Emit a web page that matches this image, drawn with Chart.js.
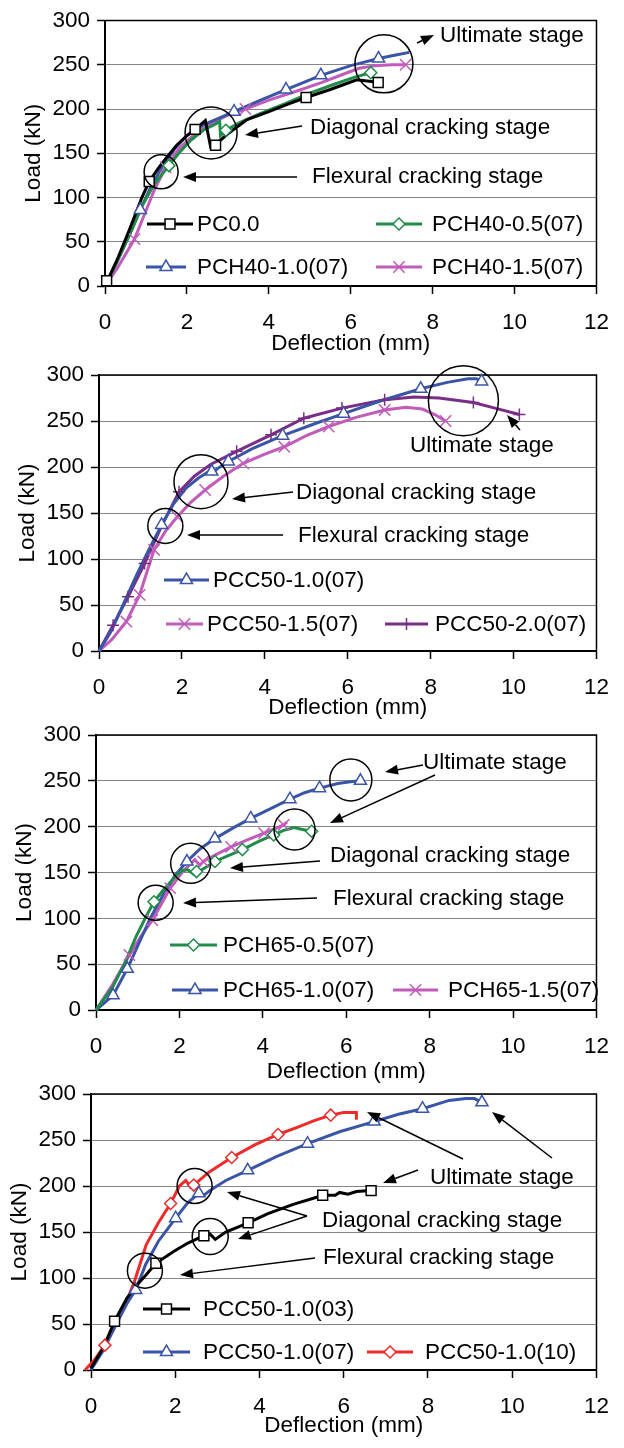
<!DOCTYPE html>
<html><head><meta charset="utf-8">
<script src="https://cdn.jsdelivr.net/npm/chart.js@4.4.0/dist/chart.umd.min.js"></script>
<style>
html,body{margin:0;padding:0;background:#fff;}
body{width:624px;height:1448px;position:relative;overflow:hidden;}
canvas{position:absolute;left:0;}
</style></head><body>
<canvas id="c1"></canvas><canvas id="c2"></canvas><canvas id="c3"></canvas><canvas id="c4"></canvas>
<script>
// ---------- tick labels ----------
const xTicks = [0, 2, 4, 6, 8, 10, 12];
const yTicks = [0, 50, 100, 150, 200, 250, 300];
const xTitle = 'Deflection (mm)';
const yTitle = 'Load (kN)';

// ---------- panel 1 ----------
const pc00Line = [[0,0],[0.05,5],[0.3,30],[0.6,64],[0.9,100],[1.08,118],[1.3,133],[1.5,145],[1.75,159],[2.0,170],[2.2,177],[2.45,187],[2.58,157],[2.7,160],[3.0,172],[3.47,188],[4.0,197],[4.5,206],[4.91,213],[5.5,222],[6.15,233],[6.5,231],[6.67,230]];
const pc00Marks = [[0.04,6],[1.08,118],[2.2,177],[2.7,159],[4.91,213],[6.67,230]];
const pch40_05Line = [[0,0],[0.3,28],[0.6,58],[0.9,90],[1.2,115],[1.56,136],[1.8,150],[2.1,165],[2.4,176],[2.7,183],[2.8,186],[2.82,170],[2.95,176],[3.3,185],[3.8,195],[4.4,206],[5.0,218],[5.6,228],[6.1,236],[6.49,241],[6.55,244]];
const pch40_05Marks = [[1.56,136],[2.95,176],[6.49,241]];
const pch40_10Line = [[0,0],[0.3,28],[0.6,58],[0.86,86],[1.1,110],[1.4,135],[1.7,155],[2.0,170],[2.4,182],[2.8,190],[3.15,197],[3.8,210],[4.42,222],[5.27,238],[6.0,249],[6.68,257],[7.1,261],[7.43,264]];
const pch40_10Marks = [[0.86,86],[3.15,197],[4.42,222],[5.27,238],[6.68,257]];
const pch40_15Line = [[0,0],[0.3,20],[0.72,53],[1.0,85],[1.2,108],[1.48,134],[1.8,155],[2.2,172],[2.6,184],[3.0,193],[3.43,200],[4.0,210],[4.67,220],[5.3,230],[5.8,239],[6.2,246],[6.6,249],[7.0,250],[7.34,250]];
const pch40_15Marks = [[0.72,53],[1.48,134],[3.43,200],[7.34,250]];

// ---------- panel 2 ----------
const pcc50_10Line = [[0,0],[0.3,22],[0.6,52],[0.9,82],[1.2,110],[1.51,137],[1.8,160],[2.1,177],[2.4,188],[2.65,195],[2.72,193],[2.85,198],[3.12,206],[3.7,220],[4.43,234],[5.2,247],[5.9,258],[6.8,272],[7.76,285],[8.4,292],[8.9,296],[9.1,296],[9.23,293]];
const pcc50_10Marks = [[1.51,137],[2.72,195],[3.12,206],[4.43,234],[5.9,258],[7.76,285],[9.23,293]];
const pcc50_15Line = [[0,0],[0.3,12],[0.66,32],[0.98,61],[1.15,85],[1.33,110],[1.6,130],[1.89,146],[2.2,161],[2.56,175],[3.0,190],[3.48,204],[4.0,214],[4.47,222],[5.0,234],[5.54,244],[6.2,254],[6.89,262],[7.4,265],[7.8,263],[8.1,257],[8.36,250]];
const pcc50_15Marks = [[0.66,32],[0.98,61],[1.33,110],[1.89,146],[2.56,175],[3.48,204],[4.47,222],[5.54,244],[6.89,262],[8.36,250]];
const pcc50_20Line = [[0,0],[0.34,28],[0.7,59],[1.1,95],[1.5,135],[1.93,173],[2.3,190],[2.7,203],[3.32,217],[4.15,235],[4.94,253],[5.86,264],[6.89,273],[7.6,276],[8.2,275],[9.03,270],[9.55,264],[10.14,257]];
const pcc50_20Marks = [[0.34,28],[0.7,59],[1.1,95],[1.93,173],[3.32,217],[4.15,235],[4.94,253],[5.86,264],[6.89,273],[9.03,270],[10.14,257]];

// ---------- panel 3 ----------
const pch65_05Line = [[0,0],[0.4,25],[0.7,52],[0.96,80],[1.2,102],[1.39,118],[1.6,130],[1.85,143],[2.05,152],[2.2,153],[2.35,148],[2.5,152],[2.85,162],[3.2,169],[3.51,175],[3.9,184],[4.26,191],[4.5,196],[4.75,199],[4.95,197],[5.17,195]];
const pch65_05Marks = [[1.39,118],[2.41,151],[2.85,162],[3.51,175],[4.26,191],[5.17,195]];
const pch65_10Line = [[0,0],[0.41,16],[0.75,45],[1.0,70],[1.3,100],[1.6,125],[1.9,147],[2.18,162],[2.5,176],[2.85,187],[3.3,199],[3.71,209],[4.2,220],[4.65,230],[5.0,237],[5.36,242],[5.8,247],[6.1,249],[6.34,250]];
const pch65_10Marks = [[0.41,16],[0.75,45],[2.18,162],[2.85,187],[3.71,209],[4.65,230],[5.36,242],[6.34,250]];
const pch65_15Line = [[0,0],[0.4,28],[0.8,60],[1.1,82],[1.35,98],[1.78,133],[2.1,152],[2.37,164],[2.49,158],[2.57,162],[2.9,170],[3.24,178],[3.6,185],[4.03,193],[4.3,198],[4.5,202],[4.58,205]];
const pch65_15Marks = [[0.8,60],[1.35,98],[1.78,133],[2.57,162],[3.24,178],[4.03,193],[4.5,202]];

// ---------- panel 4 ----------
const pcc03Line = [[0,2],[0.3,25],[0.56,53],[0.85,78],[1.1,93],[1.3,103],[1.54,116],[1.97,129],[2.3,138],[2.68,146],[2.82,148],[2.95,142],[3.2,150],[3.73,160],[4.2,170],[4.8,180],[5.3,187],[5.5,190],[5.8,190],[5.9,193],[6.1,191],[6.3,194],[6.65,195]];
const pcc03Marks = [[0.56,53],[1.54,116],[2.68,146],[3.73,160],[5.5,190],[6.65,195]];
const pcc07Line = [[0,0],[0.3,22],[0.6,50],[0.85,72],[1.06,87],[1.3,115],[1.6,140],[2.01,165],[2.3,182],[2.56,192],[2.68,190],[2.85,196],[3.2,206],[3.72,217],[4.4,232],[5.14,246],[5.9,259],[6.72,270],[7.3,278],[7.87,284],[8.5,293],[8.9,295],[9.1,295],[9.28,291]];
const pcc07Marks = [[1.06,87],[2.01,165],[2.56,192],[3.72,217],[5.14,246],[6.72,270],[7.87,284],[9.28,291]];
const pcc10Line = [[-0.14,0],[0.1,12],[0.33,27],[0.6,50],[0.85,75],[1.03,96],[1.31,136],[1.6,160],[1.89,181],[2.1,200],[2.25,206],[2.36,199],[2.44,201],[2.8,215],[3.34,231],[3.9,245],[4.44,256],[4.91,264],[5.3,271],[5.69,277],[6.0,280],[6.3,280],[6.3,272]];
const pcc10Marks = [[0.33,27],[1.89,181],[2.44,201],[3.34,231],[4.44,256],[5.69,277]];

// ---------- styles ----------
const FONT = '22.5px "Liberation Sans", Arial, Helvetica, sans-serif';
const C = {black:'#000000', green:'#1f8c48', blue:'#3a55a8', magenta:'#c25cbb', purple:'#7a2d87', red:'#ee2a2a'};

function drawMark(ctx, style, r, x, y) {
  ctx.beginPath();
  if (style === 'triangle') {
    for (let k = 0; k < 3; k++) {
      const a = k * 2 * Math.PI / 3;
      const px = x + Math.sin(a) * r, py = y - Math.cos(a) * r;
      k ? ctx.lineTo(px, py) : ctx.moveTo(px, py);
    }
    ctx.closePath(); ctx.fill(); ctx.stroke();
  } else if (style === 'rect') {
    const s = r * Math.SQRT1_2;
    ctx.rect(x - s, y - s, 2 * s, 2 * s); ctx.fill(); ctx.stroke();
  } else if (style === 'rectRot') {
    ctx.moveTo(x - r, y); ctx.lineTo(x, y - r); ctx.lineTo(x + r, y); ctx.lineTo(x, y + r);
    ctx.closePath(); ctx.fill(); ctx.stroke();
  } else if (style === 'cross') {
    ctx.moveTo(x, y - r); ctx.lineTo(x, y + r); ctx.moveTo(x - r, y); ctx.lineTo(x + r, y); ctx.stroke();
  } else if (style === 'crossRot') {
    const s = r * Math.SQRT1_2;
    ctx.moveTo(x - s, y - s); ctx.lineTo(x + s, y + s); ctx.moveTo(x - s, y + s); ctx.lineTo(x + s, y - s); ctx.stroke();
  }
}

function arrow(ctx, x0, y0, x1, y1) {
  const ang = Math.atan2(y1 - y0, x1 - x0), L = 13, W = 5;
  const bx = x1 - Math.cos(ang) * L, by = y1 - Math.sin(ang) * L;
  ctx.beginPath(); ctx.moveTo(x0, y0); ctx.lineTo(bx, by); ctx.stroke();
  ctx.beginPath();
  ctx.moveTo(x1, y1);
  ctx.lineTo(bx + Math.sin(ang) * W, by - Math.cos(ang) * W);
  ctx.lineTo(bx - Math.sin(ang) * W, by + Math.cos(ang) * W);
  ctx.closePath(); ctx.fill();
}

function makeChart(id, box, series, legendItems, notes) {
  const cv = document.getElementById(id);
  cv.width = 624; cv.height = box.h;
  cv.style.top = box.top + 'px'; cv.style.width = '624px'; cv.style.height = box.h + 'px';
  const datasets = [];
  series.forEach(s => {
    datasets.push({label: s.label, data: s.line.map(p => ({x: p[0], y: p[1]})), showLine: true,
      borderColor: s.color, borderWidth: 3, pointRadius: 0, fill: false, clip: 12, order: 2});
    datasets.push({label: s.label + ' marks', data: s.marks.map(p => ({x: p[0], y: p[1]})), showLine: false,
      pointStyle: s.style, pointRadius: s.r, borderColor: s.color, backgroundColor: '#ffffff',
      pointBorderWidth: 1.5, clip: 12, order: 1});
  });
  const overlay = {
    id: 'overlay',
    beforeDatasetsDraw(chart) {
      const {ctx, chartArea: a} = chart;
      ctx.save(); ctx.strokeStyle = '#000'; ctx.lineWidth = 1.5;
      ctx.strokeRect(a.left, a.top, a.right - a.left, a.bottom - a.top);
      ctx.restore();
    },
    afterDraw(chart) {
      const {ctx, scales: {x, y}} = chart;
      ctx.save();
      // legend
      legendItems.forEach(it => {
        const s = series[it.s];
        ctx.strokeStyle = s.color; ctx.lineWidth = 3;
        ctx.beginPath(); ctx.moveTo(it.x0, it.y); ctx.lineTo(it.x1, it.y); ctx.stroke();
        ctx.fillStyle = '#fff'; ctx.lineWidth = 1.5;
        drawMark(ctx, s.style, s.r, (it.x0 + it.x1) / 2, it.y);
        ctx.fillStyle = '#000'; ctx.font = FONT; ctx.textBaseline = 'middle'; ctx.textAlign = 'left';
        ctx.fillText(s.label, it.tx, it.y + 1);
      });
      // notes
      ctx.strokeStyle = '#000'; ctx.fillStyle = '#000'; ctx.lineWidth = 1.5;
      notes.circles.forEach(c => {
        ctx.beginPath(); ctx.arc(x.getPixelForValue(c.x), y.getPixelForValue(c.y), c.r, 0, 2 * Math.PI); ctx.stroke();
      });
      notes.arrows.forEach(a => arrow(ctx, a[0], a[1], a[2], a[3]));
      ctx.font = FONT; ctx.textBaseline = 'middle'; ctx.textAlign = 'left';
      notes.texts.forEach(t => ctx.fillText(t.text, t.x, t.y + 1));
      ctx.restore();
    }
  };
  const font = {family: '"Liberation Sans", Arial, Helvetica, sans-serif', size: 22.5};
  new Chart(cv, {
    type: 'scatter',
    data: {datasets},
    options: {
      responsive: false, animation: false, devicePixelRatio: 1,
      layout: {padding: {left: box.L - 90, top: box.T, right: 624 - box.R, bottom: box.h - box.B - 75}},
      plugins: {legend: {display: false}, tooltip: {enabled: false}},
      scales: {
        x: {
          type: 'linear', min: 0, max: 12,
          afterFit(s) { s.height = 75; },
          afterBuildTicks(s) { s.ticks = xTicks.map(v => ({value: v})); },
          ticks: {font, color: '#000', padding: 15, autoSkip: false, maxRotation: 0},
          grid: {drawOnChartArea: false, tickLength: 8, tickColor: '#000', tickWidth: 1.5},
          border: {color: '#000', width: 2},
          title: {display: true, text: xTitle, font, color: '#000', padding: {top: 0, bottom: box.xtp}}
        },
        y: {
          type: 'linear', min: 0, max: 300,
          afterFit(s) { s.width = 90; },
          afterBuildTicks(s) { s.ticks = yTicks.map(v => ({value: v})); },
          ticks: {font, color: '#000', padding: 7},
          grid: {color: '#858585', lineWidth: 1, tickLength: 8, tickColor: '#000', tickWidth: 1.5},
          border: {color: '#000', width: 2},
          title: {display: true, text: yTitle, font, color: '#000', padding: {top: 5, bottom: 0}}
        }
      }
    },
    plugins: [overlay]
  });
}

// ---------- panel 1 ----------
makeChart('c1', {top: 0, h: 365, L: 105, R: 606, T: 16, B: 286, xtp: 4},
  [
    {label: 'PC0.0', line: pc00Line, marks: pc00Marks, color: C.black, style: 'rect', r: 7},
    {label: 'PCH40-0.5(07)', line: pch40_05Line, marks: pch40_05Marks, color: C.green, style: 'rectRot', r: 6},
    {label: 'PCH40-1.0(07)', line: pch40_10Line, marks: pch40_10Marks, color: C.blue, style: 'triangle', r: 7},
    {label: 'PCH40-1.5(07)', line: pch40_15Line, marks: pch40_15Marks, color: C.magenta, style: 'crossRot', r: 8}
  ],
  [
    {s: 0, x0: 147, x1: 193, tx: 197, y: 224},
    {s: 1, x0: 376, x1: 422, tx: 432, y: 224},
    {s: 2, x0: 146, x1: 186, tx: 197, y: 267},
    {s: 3, x0: 376, x1: 422, tx: 432, y: 267}
  ],
  {
    circles: [{x: 6.81, y: 251, r: 29}, {x: 2.59, y: 173, r: 26}, {x: 1.37, y: 129, r: 17}],
    arrows: [[417, 43, 434, 35], [302, 126, 245, 135], [297, 177, 183, 177]],
    texts: [{text: 'Ultimate stage', x: 440, y: 35}, {text: 'Diagonal cracking stage', x: 310, y: 127}, {text: 'Flexural cracking stage', x: 312, y: 176}]
  });

// ---------- panel 2 ----------
makeChart('c2', {top: 345, h: 385, L: 99, R: 603, T: 30, B: 306, xtp: 5},
  [
    {label: 'PCC50-1.0(07)', line: pcc50_10Line, marks: pcc50_10Marks, color: C.blue, style: 'triangle', r: 7},
    {label: 'PCC50-1.5(07)', line: pcc50_15Line, marks: pcc50_15Marks, color: C.magenta, style: 'crossRot', r: 8},
    {label: 'PCC50-2.0(07)', line: pcc50_20Line, marks: pcc50_20Marks, color: C.purple, style: 'cross', r: 6}
  ],
  [
    {s: 0, x0: 164, x1: 209, tx: 213, y: 235},
    {s: 1, x0: 166, x1: 203, tx: 207, y: 279},
    {s: 2, x0: 385, x1: 428, tx: 435, y: 279}
  ],
  {
    circles: [{x: 8.79, y: 272, r: 35}, {x: 2.46, y: 184, r: 27}, {x: 1.6, y: 136, r: 17.5}],
    arrows: [[520, 85, 507, 70], [293, 147, 232, 154], [283, 190, 187, 190]],
    texts: [{text: 'Ultimate stage', x: 410, y: 100}, {text: 'Diagonal cracking stage', x: 296, y: 147}, {text: 'Flexural cracking stage', x: 298, y: 190}]
  });

// ---------- panel 3 ----------
makeChart('c3', {top: 705, h: 385, L: 96, R: 605, T: 30, B: 305, xtp: 0},
  [
    {label: 'PCH65-0.5(07)', line: pch65_05Line, marks: pch65_05Marks, color: C.green, style: 'rectRot', r: 6},
    {label: 'PCH65-1.0(07)', line: pch65_10Line, marks: pch65_10Marks, color: C.blue, style: 'triangle', r: 7},
    {label: 'PCH65-1.5(07)', line: pch65_15Line, marks: pch65_15Marks, color: C.magenta, style: 'crossRot', r: 8}
  ],
  [
    {s: 0, x0: 170, x1: 217, tx: 223, y: 240},
    {s: 1, x0: 172, x1: 218, tx: 223, y: 285},
    {s: 2, x0: 393, x1: 438, tx: 448, y: 285}
  ],
  {
    circles: [{x: 6.11, y: 251, r: 21}, {x: 4.76, y: 197, r: 20.5}, {x: 2.27, y: 160, r: 20}, {x: 1.43, y: 117, r: 17.5}],
    arrows: [[423, 60, 385, 67], [435, 70, 330, 118], [320, 156, 230, 163], [317, 193, 183, 198]],
    texts: [{text: 'Ultimate stage', x: 423, y: 57}, {text: 'Diagonal cracking stage', x: 330, y: 150}, {text: 'Flexural cracking stage', x: 333, y: 193}]
  });

// ---------- panel 4 ----------
makeChart('c4', {top: 1064, h: 384, L: 91, R: 602, T: 30, B: 306, xtp: 6},
  [
    {label: 'PCC50-1.0(03)', line: pcc03Line, marks: pcc03Marks, color: C.black, style: 'rect', r: 7},
    {label: 'PCC50-1.0(07)', line: pcc07Line, marks: pcc07Marks, color: C.blue, style: 'triangle', r: 7},
    {label: 'PCC50-1.0(10)', line: pcc10Line, marks: pcc10Marks, color: C.red, style: 'rectRot', r: 6}
  ],
  [
    {s: 0, x0: 143, x1: 190, tx: 203, y: 245},
    {s: 1, x0: 143, x1: 190, tx: 203, y: 288},
    {s: 2, x0: 367, x1: 413, tx: 425, y: 288}
  ],
  {
    circles: [{x: 2.46, y: 200, r: 17.5}, {x: 2.83, y: 145, r: 18}, {x: 1.28, y: 108, r: 17.5}],
    arrows: [[552, 94, 492, 48], [463, 95, 367, 48], [418, 106, 383, 119], [307, 152, 227, 128], [307, 152, 238, 175], [315, 194, 180, 211]],
    texts: [{text: 'Ultimate stage', x: 430, y: 113}, {text: 'Diagonal cracking stage', x: 322, y: 156}, {text: 'Flexural cracking stage', x: 323, y: 193}]
  });
</script>
</body></html>
